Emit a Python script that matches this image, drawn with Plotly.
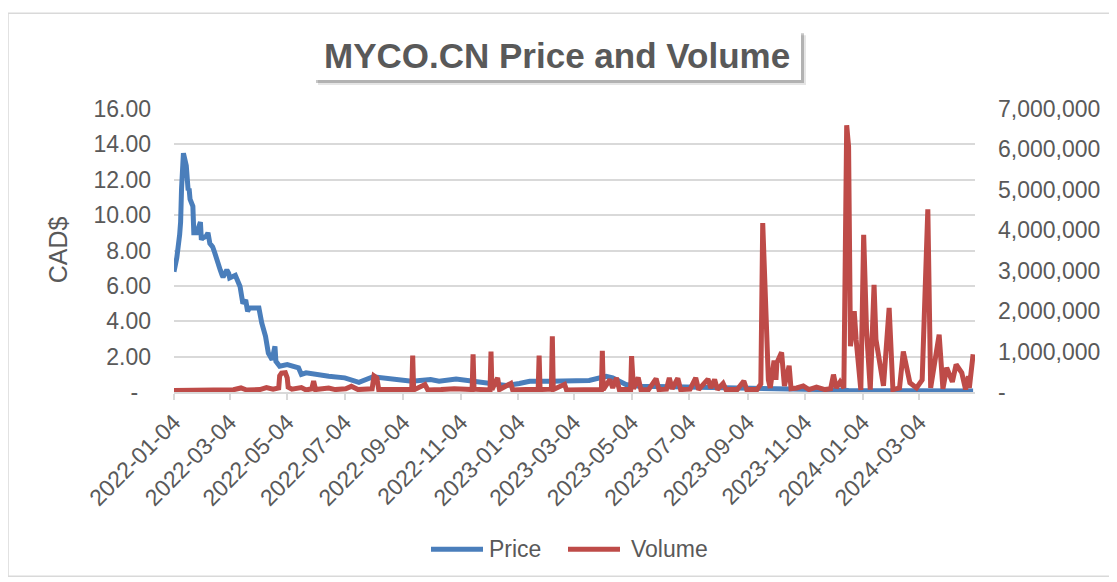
import plotly.graph_objects as go

# ---------------- data ----------------
price_dates = [
    "2022-01-04", "2022-01-06", "2022-01-07", "2022-01-10", "2022-01-11", "2022-01-12",
    "2022-01-13", "2022-01-14", "2022-01-17", "2022-01-18", "2022-01-19", "2022-01-20",
    "2022-01-21", "2022-01-24", "2022-01-25", "2022-01-28", "2022-01-31", "2022-02-01",
    "2022-02-02", "2022-02-03", "2022-02-07", "2022-02-09", "2022-02-11", "2022-02-14",
    "2022-02-16", "2022-02-18", "2022-02-22", "2022-02-24", "2022-02-25", "2022-03-01",
    "2022-03-03", "2022-03-04", "2022-03-07", "2022-03-10", "2022-03-15", "2022-03-18",
    "2022-03-21", "2022-03-23", "2022-03-25", "2022-04-04", "2022-04-07", "2022-04-11",
    "2022-04-14", "2022-04-18", "2022-04-21", "2022-04-22", "2022-04-26", "2022-05-04",
    "2022-05-16", "2022-05-19", "2022-05-24", "2022-06-03", "2022-06-17", "2022-07-04",
    "2022-07-19", "2022-08-03", "2022-08-24", "2022-09-13", "2022-10-03", "2022-10-12",
    "2022-10-30", "2022-11-17", "2022-12-05", "2022-12-22", "2023-01-05", "2023-01-16",
    "2023-02-06", "2023-03-03", "2023-03-20", "2023-04-07", "2023-04-14", "2023-04-28",
    "2023-05-12", "2023-06-17", "2023-07-22", "2023-08-15", "2023-09-20", "2023-11-17",
    "2023-12-20", "2024-02-15", "2024-04-30",
]
price_values = [
    6.8, 7.2, 7.6, 8.9, 9.6, 11.5,
    13.2, 13.5, 12.8, 11.6, 11.4, 11.5,
    10.9, 10.5, 9.0, 9.0, 9.5, 9.6,
    8.6, 8.7, 8.8, 9.0, 8.4, 8.2,
    7.9, 7.5, 6.9, 6.6, 6.5, 6.9,
    6.7, 6.45, 6.5, 6.6, 5.97, 5.0,
    5.2, 4.56, 4.75, 4.75, 3.9, 3.15,
    2.2, 1.83, 2.58, 1.74, 1.46, 1.55,
    1.37, 0.99, 1.08, 0.99, 0.89, 0.8,
    0.55, 0.86, 0.7, 0.61, 0.7, 0.61,
    0.74, 0.61, 0.55, 0.37, 0.48, 0.61,
    0.61, 0.61, 0.65, 0.89, 0.8, 0.42,
    0.33, 0.29, 0.27, 0.24, 0.22, 0.14,
    0.08, 0.07, 0.06,
]

volume_dates = [
    "2022-01-04", "2022-01-20", "2022-02-07", "2022-02-22", "2022-03-08", "2022-03-16",
    "2022-03-22", "2022-04-05", "2022-04-12", "2022-04-19", "2022-04-25", "2022-04-26",
    "2022-04-28", "2022-05-02", "2022-05-04", "2022-05-05", "2022-05-09", "2022-05-19",
    "2022-05-24", "2022-05-30", "2022-06-01", "2022-06-03", "2022-06-10", "2022-06-17",
    "2022-06-24", "2022-07-05", "2022-07-11", "2022-07-18", "2022-08-02", "2022-08-04",
    "2022-08-07", "2022-08-09", "2022-08-22", "2022-09-01", "2022-09-13", "2022-09-14",
    "2022-09-15", "2022-09-27", "2022-09-30", "2022-10-14", "2022-10-28", "2022-11-16",
    "2022-11-17", "2022-11-18", "2022-11-28", "2022-12-05", "2022-12-06", "2022-12-07",
    "2022-12-13", "2022-12-15", "2022-12-27", "2022-12-29", "2023-01-12", "2023-01-25",
    "2023-01-26", "2023-01-27", "2023-02-08", "2023-02-09", "2023-02-10", "2023-02-22",
    "2023-02-24", "2023-03-10", "2023-03-24", "2023-04-02", "2023-04-03", "2023-04-04",
    "2023-04-08", "2023-04-11", "2023-04-14", "2023-04-18", "2023-04-21", "2023-04-28",
    "2023-05-03", "2023-05-04", "2023-05-06", "2023-05-11", "2023-05-14", "2023-05-22",
    "2023-05-30", "2023-06-02", "2023-06-10", "2023-06-13", "2023-06-16", "2023-06-22",
    "2023-06-25", "2023-07-05", "2023-07-11", "2023-07-14", "2023-07-24", "2023-07-27",
    "2023-07-31", "2023-08-03", "2023-08-09", "2023-08-12", "2023-08-24", "2023-08-31",
    "2023-09-03", "2023-09-14", "2023-09-18", "2023-09-20", "2023-09-26", "2023-09-28",
    "2023-10-02", "2023-10-04", "2023-10-05", "2023-10-10", "2023-10-13", "2023-10-18",
    "2023-10-20", "2023-10-26", "2023-11-02", "2023-11-08", "2023-11-16", "2023-11-25",
    "2023-12-01", "2023-12-04", "2023-12-07", "2023-12-11", "2023-12-15", "2023-12-18",
    "2023-12-20", "2023-12-22", "2023-12-26", "2023-12-28", "2024-01-02", "2024-01-05",
    "2024-01-08", "2024-01-12", "2024-01-16", "2024-01-18", "2024-01-22", "2024-01-26",
    "2024-02-01", "2024-02-05", "2024-02-12", "2024-02-16", "2024-02-23", "2024-03-01",
    "2024-03-07", "2024-03-13", "2024-03-16", "2024-03-20", "2024-03-25", "2024-03-29",
    "2024-04-02", "2024-04-08", "2024-04-12", "2024-04-18", "2024-04-22", "2024-04-25",
    "2024-04-26", "2024-04-30",
]
volume_values = [
    40000, 50000, 45000, 60000, 55000, 100000,
    50000, 60000, 110000, 70000, 100000, 400000,
    470000, 480000, 350000, 120000, 70000, 110000,
    50000, 80000, 270000, 60000, 70000, 100000,
    60000, 80000, 140000, 60000, 80000, 400000,
    350000, 60000, 60000, 70000, 60000, 900000,
    50000, 185000, 50000, 60000, 80000, 60000,
    930000, 70000, 60000, 50000, 1000000, 60000,
    350000, 60000, 210000, 50000, 60000, 60000,
    900000, 60000, 70000, 1380000, 60000, 190000,
    50000, 60000, 70000, 60000, 1020000, 60000,
    200000, 310000, 100000, 350000, 60000, 50000,
    60000, 890000, 80000, 360000, 50000, 60000,
    330000, 60000, 70000, 350000, 80000, 340000,
    60000, 70000, 350000, 60000, 320000, 100000,
    310000, 60000, 210000, 60000, 60000, 270000,
    60000, 60000, 200000, 4180000, 300000, 100000,
    780000, 300000, 720000, 980000, 150000, 650000,
    80000, 100000, 150000, 60000, 120000, 60000,
    80000, 430000, 100000, 250000, 100000, 6600000,
    6070000, 1130000, 2000000, 1300000, 50000, 3890000,
    1540000, 60000, 2650000, 1300000, 640000, 150000,
    2080000, 60000, 100000, 1000000, 227000, 100000,
    300000, 4520000, 100000, 680000, 1420000, 80000,
    600000, 250000, 680000, 474000, 60000, 390000,
    100000, 930000,
]

x_tick_dates = [
    "2022-01-04", "2022-03-04", "2022-05-04", "2022-07-04", "2022-09-04", "2022-11-04",
    "2023-01-04", "2023-03-04", "2023-05-04", "2023-07-04", "2023-09-04", "2023-11-04",
    "2024-01-04", "2024-03-04",
]
price_ticks = [0, 2, 4, 6, 8, 10, 12, 14, 16]
price_tick_labels = ["-\u00a0\u00a0", "2.00", "4.00", "6.00", "8.00", "10.00", "12.00", "14.00", "16.00"]
volume_ticks = [0, 1000000, 2000000, 3000000, 4000000, 5000000, 6000000, 7000000]
volume_tick_labels = ["-", "1,000,000", "2,000,000", "3,000,000", "4,000,000",
                      "5,000,000", "6,000,000", "7,000,000"]

# ---------------- layout geometry / styles ----------------
# page body has an 8px default margin, so the figure starts at (8, 8) in the window
OFF = 8
WIN_W, WIN_H = 1117, 582
W, H = WIN_W - OFF, WIN_H - OFF
# plot area in window pixel coordinates
L, R, T, B = 174, 975, 109, 392.5
FONT = "Liberation Sans, Arial, sans-serif"
TXT = "#595959"
BLUE = "#4A7EBB"
RED = "#BE4B48"
GRID = "#D9D9D9"


def px(x):
    return (x - L) / (R - L)


def py(y):
    return (B - y) / (B - T)


fig = go.Figure()
fig.add_trace(go.Scatter(x=price_dates, y=price_values, name="Price", mode="lines",
                         line=dict(color=BLUE, width=5), yaxis="y"))
fig.add_trace(go.Scatter(x=volume_dates, y=volume_values, name="Volume", mode="lines",
                         line=dict(color=RED, width=5), yaxis="y2"))

shapes = []
# outer chart border
shapes.append(dict(type="rect", xref="paper", yref="paper", x0=px(8), x1=px(1112),
                   y0=py(577), y1=py(13), line=dict(color="#D9D9D9", width=1.5),
                   fillcolor="rgba(0,0,0,0)", layer="below"))
# title box shadow + box
shapes.append(dict(type="rect", xref="paper", yref="paper", x0=px(318), x1=px(806),
                   y0=py(85), y1=py(35), line=dict(width=0), fillcolor="rgba(0,0,0,0.10)"))
shapes.append(dict(type="rect", xref="paper", yref="paper", x0=px(316), x1=px(804),
                   y0=py(83), y1=py(33), line=dict(width=0), fillcolor="rgba(0,0,0,0.22)"))
shapes.append(dict(type="rect", xref="paper", yref="paper", x0=px(313), x1=px(801),
                   y0=py(80), y1=py(30), line=dict(width=0), fillcolor="white"))
# legend line samples
shapes.append(dict(type="line", xref="paper", yref="paper", x0=px(431), x1=px(483),
                   y0=py(550), y1=py(550), line=dict(color=BLUE, width=5)))
shapes.append(dict(type="line", xref="paper", yref="paper", x0=px(568), x1=px(620),
                   y0=py(550), y1=py(550), line=dict(color=RED, width=5)))

annotations = [
    dict(text="<b>MYCO.CN Price and Volume</b>", xref="paper", yref="paper",
         x=px(557), y=py(55), xanchor="center", yanchor="middle", showarrow=False,
         font=dict(family=FONT, size=35, color=TXT)),
    dict(text="CAD$", xref="paper", yref="paper", x=px(57.5), y=py(250),
         xanchor="center", yanchor="middle", textangle=-90, showarrow=False,
         font=dict(family=FONT, size=25, color=TXT)),
    dict(text="Price", xref="paper", yref="paper", x=px(487), y=py(550),
         xanchor="left", yanchor="middle", showarrow=False,
         font=dict(family=FONT, size=23, color=TXT)),
    dict(text="Volume", xref="paper", yref="paper", x=px(629), y=py(550),
         xanchor="left", yanchor="middle", showarrow=False,
         font=dict(family=FONT, size=23, color=TXT)),
]

fig.update_layout(
    width=W, height=H,
    margin=dict(l=L - OFF, r=W - (R - OFF), t=T - OFF, b=H - (B - OFF), autoexpand=False),
    paper_bgcolor="white", plot_bgcolor="white",
    showlegend=False,
    font=dict(family=FONT, size=23, color=TXT),
    xaxis=dict(
        type="date", range=["2022-01-04", "2024-05-02"],
        tickmode="array", tickvals=x_tick_dates, ticktext=x_tick_dates,
        tickangle=-45, tickfont=dict(family=FONT, size=23, color=TXT),
        showgrid=False, showline=True, linecolor=GRID, linewidth=1.5,
        ticks="outside", ticklen=6, tickcolor=GRID, tickwidth=1.5,
        zeroline=False,
    ),
    yaxis=dict(
        range=[0, 16], tickmode="array", tickvals=price_ticks, ticktext=price_tick_labels,
        tickfont=dict(family=FONT, size=23, color=TXT),
        showgrid=True, gridcolor=GRID, gridwidth=1.5, zeroline=False,
        showline=False, ticks="", ticklabelstandoff=22,
    ),
    yaxis2=dict(
        range=[0, 7000000], overlaying="y", side="right",
        tickmode="array", tickvals=volume_ticks, ticktext=volume_tick_labels,
        tickfont=dict(family=FONT, size=23, color=TXT),
        showgrid=False, zeroline=False, showline=False, ticks="", ticklabelstandoff=22,
    ),
    shapes=shapes,
    annotations=annotations,
)

fig.write_html("out.html")
